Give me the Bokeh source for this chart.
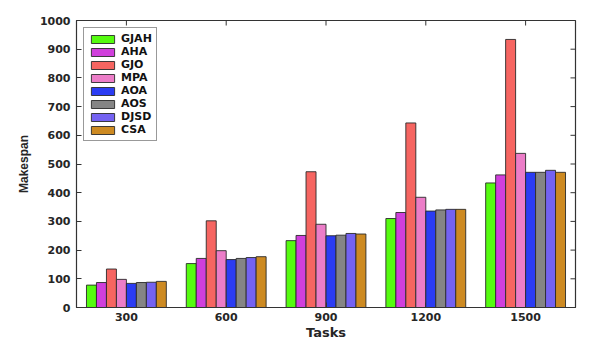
import math
from bokeh.plotting import figure
from bokeh.models import ColumnDataSource, FixedTicker, Range1d
from bokeh.embed import file_html
from bokeh.resources import INLINE

# ---- data ----
tasks = ["300", "600", "900", "1200", "1500"]
series = ["GJAH", "AHA", "GJO", "MPA", "AOA", "AOS", "DJSD", "CSA"]
GJAH = [78, 153, 233, 310, 434]
AHA = [87, 171, 251, 331, 462]
GJO = [134, 302, 473, 643, 934]
MPA = [98, 198, 290, 384, 537]
AOA = [84, 167, 250, 336, 471]
AOS = [87, 171, 252, 340, 471]
DJSD = [88, 174, 258, 342, 478]
CSA = [91, 177, 256, 342, 471]
values = [GJAH, AHA, GJO, MPA, AOA, AOS, DJSD, CSA]
colors = ["#55fb10", "#d03fdc", "#f66561", "#ec7dc8", "#2b3cf3", "#858585", "#7462f2", "#cd8a22"]
y_ticks = list(range(0, 1001, 100))

FONT = "DejaVu Sans"
TXT = "#262626"
X0, X1, Y0, Y1 = 0.5, 5.5, 0, 1000

p = figure(width=591, height=343, output_backend="svg", toolbar_location=None,
           x_range=Range1d(X0, X1), y_range=Range1d(Y0, Y1),
           min_border_left=76, min_border_right=16, min_border_top=20, min_border_bottom=36)
p.xgrid.visible = False
p.ygrid.visible = False
p.outline_line_color = "#333333"
p.outline_line_width = 1.2
p.background_fill_color = "white"
p.border_fill_color = "white"

group_x = [i + 1 for i in range(len(tasks))]
bw = 0.1
for k, (name, vals) in enumerate(zip(series, values)):
    off = (k - 3.5) * bw
    src = ColumnDataSource(dict(x=[g + off for g in group_x], top=vals))
    p.vbar(x="x", top="top", width=bw, source=src, fill_color=colors[k],
           line_color="#2a2a2a", line_width=0.9, legend_label=name)

# mirrored tick marks on right and top edges
p.ray(x=[X1] * len(y_ticks), y=y_ticks, length=5, angle=math.pi, length_units="screen",
      line_color="#333333", line_width=1)
p.ray(x=group_x, y=[Y1] * len(group_x), length=5, angle=-math.pi / 2, length_units="screen",
      line_color="#333333", line_width=1)

# axes
p.xaxis.ticker = FixedTicker(ticks=group_x)
p.xaxis.major_label_overrides = {g: t for g, t in zip(group_x, tasks)}
p.yaxis.ticker = FixedTicker(ticks=y_ticks)
p.xaxis.axis_label = "Tasks"
p.yaxis.axis_label = "Makespan"
for ax in (p.xaxis[0], p.yaxis[0]):
    ax.major_tick_in = 5
    ax.major_tick_out = 0
    ax.minor_tick_in = 0
    ax.minor_tick_out = 0
    ax.axis_line_color = "#333333"
    ax.major_tick_line_color = "#333333"
    ax.major_label_text_font = FONT
    ax.major_label_text_font_style = "bold"
    ax.major_label_text_font_size = "11px"
    ax.major_label_text_color = TXT
    ax.axis_label_text_font = FONT
    ax.axis_label_text_font_style = "bold"
    ax.axis_label_text_color = TXT
p.xaxis.axis_label_text_font_size = "13px"
p.yaxis.axis_label_text_font = "Liberation Sans"
p.yaxis.axis_label_text_font_size = "12px"
p.xaxis.major_label_standoff = 5
p.xaxis.axis_label_standoff = 1
p.yaxis.major_label_standoff = 6
p.yaxis.axis_label_standoff = 6

# legend
lg = p.legend[0]
lg.location = "top_left"
lg.margin = 7
lg.padding = 4
lg.spacing = 0
lg.glyph_width = 29
lg.glyph_height = 10
lg.label_height = 10
lg.label_standoff = 4
lg.label_text_font = FONT
lg.label_text_font_style = "bold"
lg.label_text_font_size = "11px"
lg.label_text_color = "#111111"
lg.border_line_color = "#333333"
lg.border_line_width = 1
lg.background_fill_color = "white"
lg.background_fill_alpha = 1

open("out.html", "w").write(file_html(p, INLINE))
